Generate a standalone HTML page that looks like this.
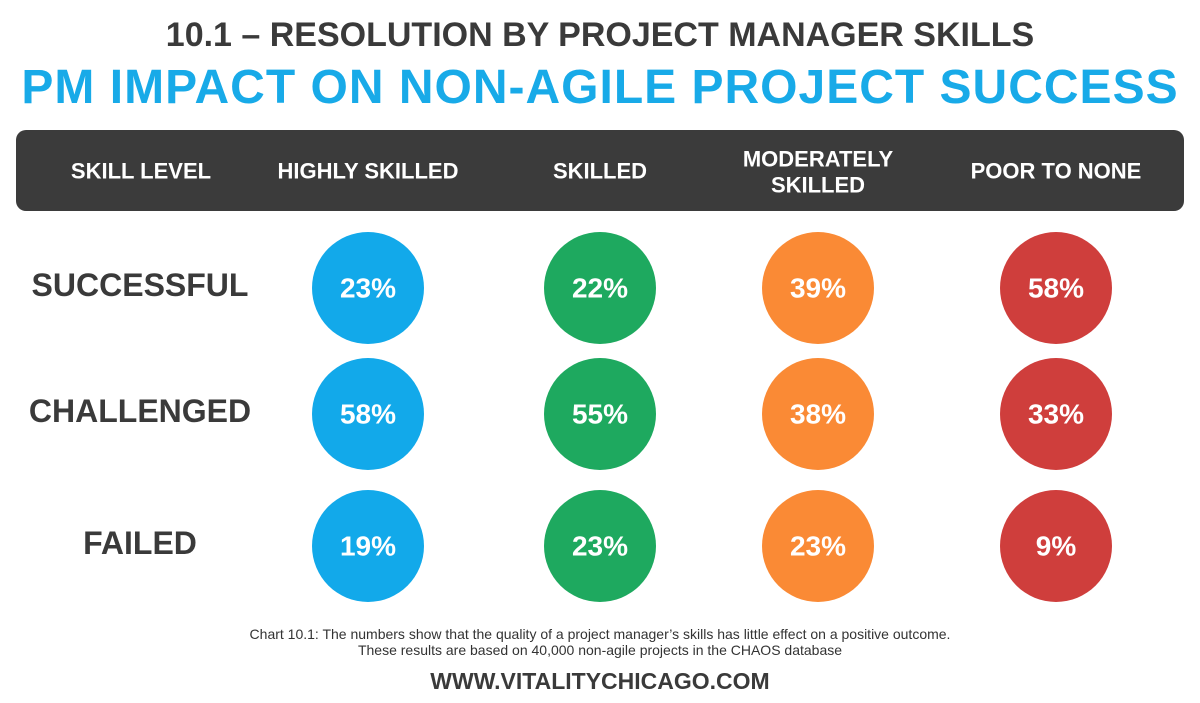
<!DOCTYPE html>
<html><head><meta charset="utf-8">
<style>
body{margin:0;width:1200px;height:703px;background:#fff;font-family:"Liberation Sans",sans-serif;overflow:hidden;position:relative}
.t{position:absolute;left:0;width:1200px;text-align:center;font-weight:bold;margin:0}
</style></head><body>
<div class="t" style="top:16px;font-size:34px;color:#3a3a3a">10.1 – RESOLUTION BY PROJECT MANAGER SKILLS</div>
<div class="t" style="top:60px;font-size:48px;color:#18aae8;letter-spacing:1px">PM IMPACT ON NON-AGILE PROJECT SUCCESS</div>
<svg id="c" width="1200" height="703" style="position:absolute;left:0;top:0"></svg>
<div class="t" style="top:626px;font-size:14px;color:#333;line-height:16px;font-weight:normal">Chart 10.1: The numbers show that the quality of a project manager’s skills has little effect on a positive outcome.<br>These results are based on 40,000 non-agile projects in the CHAOS database</div>
<div class="t" style="top:668px;font-size:23px;color:#3a3a3a">WWW.VITALITYCHICAGO.COM</div>
<script>
const columns=["HIGHLY SKILLED","SKILLED","MODERATELY SKILLED","POOR TO NONE"];
const rows=["SUCCESSFUL","CHALLENGED","FAILED"];
const successful=[23,22,39,58];
const challenged=[58,55,38,33];
const failed=[19,23,23,9];
const values=[successful,challenged,failed];
const colors=["#12a9ea","#1ea95f","#fa8a35","#cf3e3c"];
const colX=[368,600,818,1056];
const rowY=[288,414,546];
const ns="http://www.w3.org/2000/svg";
const svg=document.getElementById('c');
function mk(t,a){const e=document.createElementNS(ns,t);for(const k in a)e.setAttribute(k,a[k]);svg.appendChild(e);return e;}
const bar=mk('rect',{x:16,y:130,width:1168,height:81,rx:10,fill:'#3b3b3b'});


function txt(x,y,s,size,fill){const e=mk('text',{x:x,y:y,'text-anchor':'middle','font-size':size,'font-weight':'bold',fill:fill,'font-family':'Liberation Sans, sans-serif','dominant-baseline':'central'});e.textContent=s;return e;}
const h0=txt(141,171,'SKILL LEVEL',22,'#fff');


columns.forEach((c,i)=>{
  let e;
  if(c==="MODERATELY SKILLED"){
    e=txt(colX[i],159,'MODERATELY',22,'#fff');txt(colX[i],185,'SKILLED',22,'#fff');
  } else e=txt(colX[i],171,c,22,'#fff');
  
  
});
rows.forEach((r,j)=>{
  const l=txt(140,rowY[j]-3,r,32,'#3a3a3a');
  
  
  values[j].forEach((v,i)=>{
    const c=mk('circle',{cx:colX[i],cy:rowY[j],r:56,fill:colors[i]});
    
    
    const t=txt(colX[i],rowY[j],v+'%',28,'#fff');
    
    
  });
});
</script>
</body></html>
